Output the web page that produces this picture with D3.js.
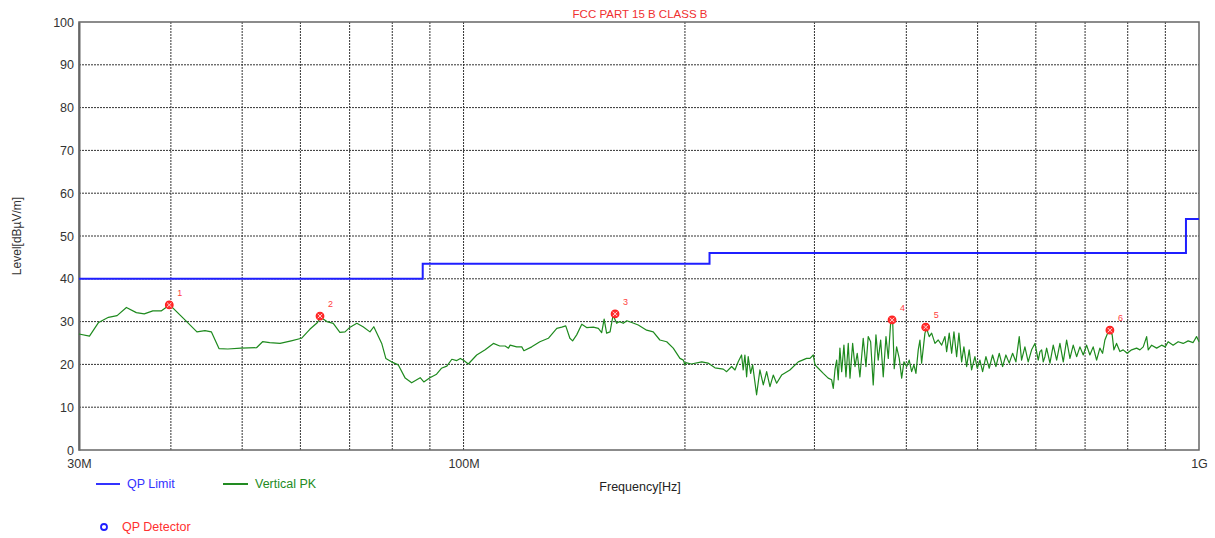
<!DOCTYPE html>
<html>
<head>
<meta charset="utf-8">
<script src="https://cdn.jsdelivr.net/npm/d3@7"></script>
<style>
  body { margin: 0; background: #fff; font-family: "Liberation Sans", Arial, sans-serif; }
  svg { display: block; }
</style>
</head>
<body>
<div id="chart"></div>
<script>
// Limit line (step after each break)
const limitFreq = [30, 88, 216, 960, 1000];
const limitLevel = [40, 43.5, 46, 54, 54];

// Vertical PK trace, MHz / dBuV/m
const traceFreq = [
  30, 31.0, 31.9, 32.9, 33.8, 34.8, 35.9, 36.8, 37.8, 38.8, 39.7, 40.3, 41.8, 43.4, 44.5, 45.4,
  46.5, 47.8, 49.8, 52.3, 53.3, 54.5, 56.3, 58.3, 60.2, 61.8, 63.3, 63.9,
  65.2, 66.5, 67.9, 69.0, 70.1, 71.6, 73.0, 74.6, 75.5, 76.6, 77.4, 78.4, 79.8, 81.5, 83.3, 85.0,
  87.3, 88.3, 90, 91.9, 93.3, 94.9, 96.4, 97.9, 99, 100.1, 101.5, 104.2, 107, 109.8, 112, 113.9,
  115.1, 115.7, 118.1, 120, 120.8, 123.8, 127, 130.4, 133.9, 136, 137.7, 139.5,
  140.7, 142.5, 144.8, 147, 150.1, 152.5, 154.1, 155.3, 156.5, 158.2, 159.7, 161.5, 163, 164.9,
  166.7, 169.3, 172.8, 177.4, 181.1, 184.9, 188.9, 192.8, 196.9, 199, 200, 200.5, 204, 210.8,
  215, 219.7, 225.5, 227.9,
  231.5, 233.9, 236.3, 238.8, 240.0, 241.3, 242.6, 243.8, 245.7, 247.2, 250.3, 252.9, 255.6,
  258.3, 261.0, 263.7, 266.5, 270.7, 277.8, 285.2, 292.7,
  295.8, 298.9, 300.5, 303.6, 308.4, 313.2, 316.6, 318.2, 319.9, 321.6, 323.2, 324.9, 326.7,
  329.0, 331.1, 333.5, 335.3, 338.1, 340.6, 343.0, 345.9, 349.5, 352.5, 355.0, 357.7, 360.6,
  363.7, 366.3, 369.1, 372.1, 375.3, 378.0, 380.8, 383.2, 385.1, 388.0, 391.2, 394.2, 397.0,
  400.4, 403.6, 406.7, 409.6, 412.2, 415.2, 417.4, 419.6, 424.0, 426.2, 429.7, 433.0, 437.5,
  442.0, 446.8, 451.4, 453.8, 457.5, 461.0, 464.3, 468.2, 471.6, 475.6, 479.0, 483.1, 487.0,
  490.7, 495.8, 499.4, 503.6, 507.9, 513.2, 518.5, 524.0, 529.5, 535.0, 540.7, 546.3, 552.0,
  557.9, 563.7, 569.6, 573.8, 579.8, 585.8, 592.1, 598.3, 604.5, 607.8, 611.0, 614.1, 617.3,
  620.6, 627.1, 633.6, 640.4, 647.0, 653.8, 660.7, 667.6, 674.5, 681.7, 688.8, 696.0, 703.3,
  710.6, 718.0, 725.7, 733.2, 739.4, 744.8, 751.1, 756.5, 762.0, 766.1, 772.5, 780.6, 788.7,
  798.6, 809.8, 822.6, 831.1, 839.8, 848.8, 853.0, 862.2, 875.8, 889.6, 899.6, 907.9, 922.2,
  936.8, 951.6, 966.6, 981.8, 992.3, 1000
];
const traceLevel = [
  27.1, 26.6, 29.8, 31.0, 31.4, 33.3, 32.1, 31.8, 32.5, 32.5, 33.7, 33.1, 30.4, 27.6, 27.9, 27.6,
  23.7, 23.6, 23.8, 23.9, 25.3, 25.1, 24.9, 25.5, 26.1, 28.2, 29.8, 31.0,
  30.0, 29.6, 27.5, 27.6, 28.7, 29.6, 28.8, 27.6, 28.8, 26.5, 24.9, 21.4, 20.6, 19.9, 16.8, 15.7,
  16.9, 15.9, 16.9, 17.7, 19.1, 19.6, 21.2, 20.9, 21.4, 20.9, 20.1, 22.2, 23.4, 24.9, 24.3, 24.3,
  23.8, 24.5, 24.1, 24.1, 23.2, 24.1, 25.3, 26.1, 28.4, 28.7, 29.0, 26.1,
  25.5, 26.9, 29.4, 28.6, 28.7, 28.4, 27.4, 30.6, 27.3, 27.6, 31.5, 29.6, 30.0, 29.6,
  30.2, 29.8, 29.2, 28.0, 27.6, 25.7, 25.3, 23.8, 21.4, 21.0, 19.9, 20.4, 20.1, 20.6,
  20.3, 19.2, 18.9, 18.3,
  19.5, 18.7, 20.6, 22.2, 18.7, 22.2, 17.1, 21.8, 17.9, 19.9, 12.9, 18.7, 15.2,
  18.3, 14.8, 17.5, 15.6, 17.5, 18.7, 20.6, 21.4,
  21.4, 22.2, 19.9, 19.1, 17.9, 16.8, 16.4, 14.4, 18.7, 21.0, 16.4, 23.8, 18.3,
  24.5, 17.1, 24.9, 16.8, 24.9, 19.5, 22.6, 17.1, 26.1, 19.5, 26.5, 25.3, 15.2,
  26.9, 21.0, 25.7, 17.1, 26.5, 21.4, 29.6, 30.4, 19.0, 24.1, 21.4, 16.8, 20.6,
  19.5, 21.0, 18.3, 19.9, 17.9, 23.4, 25.7, 20.3, 27.3, 28.4, 26.5, 27.3, 24.9,
  25.7, 24.5, 26.5, 23.0, 27.3, 22.6, 27.6, 21.8, 27.3, 20.6, 24.1, 19.5, 23.4,
  18.7, 21.8, 19.1, 21.0, 18.3, 21.8, 19.1, 22.2, 19.5, 22.6, 19.5, 22.2, 20.3,
  22.6, 20.6, 26.5, 21.0, 24.1, 20.6, 23.4, 24.9, 21.0, 23.0, 23.4, 20.6, 21.8,
  23.8, 20.3, 24.5, 21.0, 24.9, 20.6, 25.7, 21.4, 24.5, 21.8, 24.1, 22.2, 24.5,
  22.2, 24.1, 21.0, 23.8, 22.6, 25.7, 27.3, 28.0, 26.9, 23.4, 24.9, 23.0, 23.4,
  22.6, 23.4, 23.8, 23.4, 24.1, 26.5, 23.4, 24.5, 23.8, 24.5, 24.1, 25.3, 24.5,
  25.3, 24.9, 25.5, 25.1, 26.5, 25.3
];

// Peak markers
const peakFreq = [39.8, 63.8, 160.7, 382.5, 425.0, 756.6];
const peakLevel = [33.9, 31.3, 31.8, 30.4, 28.7, 28.0];
const peakLabels = ["1", "2", "3", "4", "5", "6"];

// Axis ticks
const yTicks = [0, 10, 20, 30, 40, 50, 60, 70, 80, 90, 100];
const xGrid = [40, 50, 60, 70, 80, 90, 100, 200, 300, 400, 500, 600, 700, 800, 900];
const xTickVals = [30, 100, 1000];
const xTickText = ["30M", "100M", "1G"];

const width = 1215, height = 538;
const margin = { top: 22, right: 16, bottom: 88, left: 79 };

const svg = d3.select("#chart").append("svg")
  .attr("width", width)
  .attr("height", height);

const x = d3.scaleLog()
  .domain([30, 1000])
  .range([margin.left, width - margin.right]);

const y = d3.scaleLinear()
  .domain([0, 100])
  .range([height - margin.bottom, margin.top]);

// Grid lines
svg.append("g")
  .selectAll("line.ygrid")
  .data(yTicks.slice(1, -1))
  .enter().append("line")
  .attr("x1", x(30)).attr("x2", x(1000))
  .attr("y1", d => y(d)).attr("y2", d => y(d))
  .attr("stroke", "#333").attr("stroke-width", 1)
  .attr("stroke-dasharray", "2,1");

svg.append("g")
  .selectAll("line.xgrid")
  .data(xGrid)
  .enter().append("line")
  .attr("x1", d => x(d)).attr("x2", d => x(d))
  .attr("y1", y(0)).attr("y2", y(100))
  .attr("stroke", "#333").attr("stroke-width", 1)
  .attr("stroke-dasharray", "2,1");

// Frame
svg.append("rect")
  .attr("x", x(30)).attr("y", y(100))
  .attr("width", x(1000) - x(30))
  .attr("height", y(0) - y(100))
  .attr("fill", "none")
  .attr("stroke", "#666")
  .attr("stroke-width", 1.5);

// Y axis
const yAxis = svg.append("g")
  .attr("transform", `translate(${x(30)},0)`)
  .call(d3.axisLeft(y).tickValues(yTicks).tickSize(0).tickPadding(5));
yAxis.select(".domain").attr("stroke", "#666").attr("stroke-width", 2);
yAxis.selectAll("text")
  .style("font-family", "Liberation Sans, Arial, sans-serif")
  .style("font-size", "12.5px")
  .attr("fill", "#333");

// X axis labels
const xAxis = svg.append("g")
  .attr("transform", `translate(0,${y(0)})`)
  .call(d3.axisBottom(x).tickValues(xTickVals)
    .tickFormat((d, i) => xTickText[i]).tickSize(0).tickPadding(9));
xAxis.select(".domain").remove();
xAxis.selectAll("text")
  .style("font-family", "Liberation Sans, Arial, sans-serif")
  .style("font-size", "12.5px")
  .attr("fill", "#333");

// Title and axis titles
svg.append("text")
  .attr("x", 640).attr("y", 18)
  .attr("text-anchor", "middle")
  .style("font-size", "11.5px")
  .attr("fill", "#f03030")
  .text("FCC PART 15 B CLASS B");

svg.append("text")
  .attr("transform", `translate(21,${(y(0) + y(100)) / 2}) rotate(-90)`)
  .attr("text-anchor", "middle")
  .style("font-size", "12px")
  .attr("fill", "#333")
  .text("Level[dBµV/m]");

svg.append("text")
  .attr("x", 640).attr("y", 491)
  .attr("text-anchor", "middle")
  .style("font-size", "12.5px")
  .attr("fill", "#222")
  .text("Frequency[Hz]");

// Limit line
const limitPts = limitFreq.map((f, i) => ({ f: f, v: limitLevel[i] }));
svg.append("path")
  .datum(limitPts)
  .attr("fill", "none")
  .attr("stroke", "#1f1fff")
  .attr("stroke-width", 2)
  .attr("d", d3.line().x(d => x(d.f)).y(d => y(d.v)).curve(d3.curveStepAfter));

// Trace
const tracePts = traceFreq.map((f, i) => ({ f: f, v: traceLevel[i] }));
svg.append("path")
  .datum(tracePts)
  .attr("fill", "none")
  .attr("stroke", "#1e8a1e")
  .attr("stroke-width", 1.2)
  .attr("stroke-linejoin", "round")
  .attr("d", d3.line().x(d => x(d.f)).y(d => y(d.v)));

// Peak markers
const peaks = peakFreq.map((f, i) => ({ f: f, v: peakLevel[i], label: peakLabels[i] }));
const pg = svg.append("g")
  .selectAll("g.peak")
  .data(peaks)
  .enter().append("g")
  .attr("transform", d => `translate(${x(d.f)},${y(d.v)})`);
pg.append("circle")
  .attr("r", 3.8)
  .attr("fill", "#ff3030")
  .attr("stroke", "#ff2020")
  .attr("stroke-width", 1.2);
pg.append("path")
  .attr("d", "M-2.2,-2.2L2.2,2.2M-2.2,2.2L2.2,-2.2")
  .attr("stroke", "#ffd0d0")
  .attr("stroke-width", 1);
pg.append("text")
  .attr("x", 8).attr("y", -9)
  .style("font-size", "9px")
  .attr("fill", "#ff4040")
  .text(d => d.label);

// Legend
const legend = svg.append("g");
legend.append("line")
  .attr("x1", 96).attr("x2", 120).attr("y1", 484).attr("y2", 484)
  .attr("stroke", "#3333ff").attr("stroke-width", 2);
legend.append("text")
  .attr("x", 127).attr("y", 488)
  .style("font-size", "12.5px").attr("fill", "#3333ff")
  .text("QP Limit");
legend.append("line")
  .attr("x1", 223).attr("x2", 248).attr("y1", 484).attr("y2", 484)
  .attr("stroke", "#228b22").attr("stroke-width", 2);
legend.append("text")
  .attr("x", 255).attr("y", 488)
  .style("font-size", "12.5px").attr("fill", "#228b22")
  .text("Vertical PK");
legend.append("circle")
  .attr("cx", 104).attr("cy", 527).attr("r", 3)
  .attr("fill", "none").attr("stroke", "#2020ff").attr("stroke-width", 1.8);
legend.append("text")
  .attr("x", 122).attr("y", 531)
  .style("font-size", "12.5px").attr("fill", "#ff3030")
  .text("QP Detector");
</script>
</body>
</html>
